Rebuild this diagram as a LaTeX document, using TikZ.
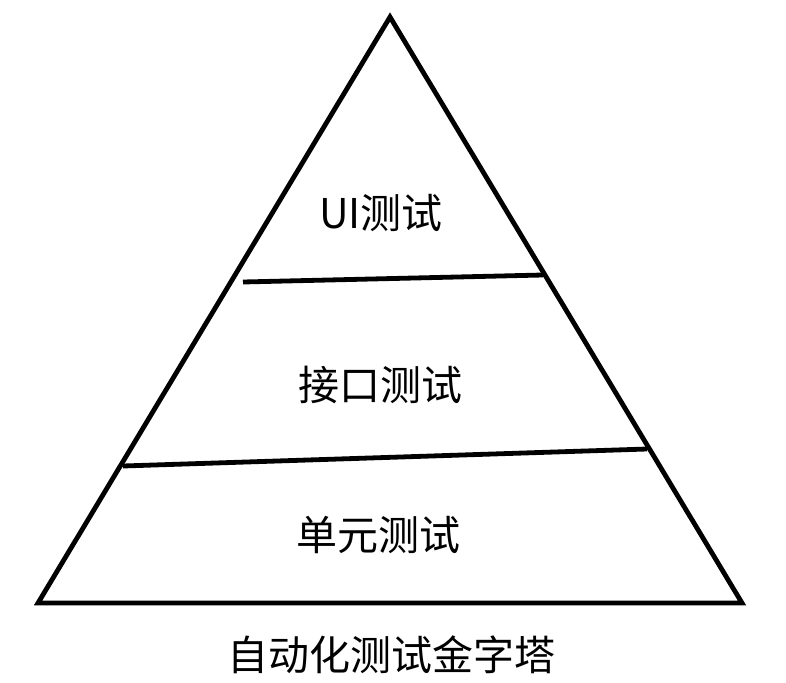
\documentclass[tikz,border=0pt]{standalone}
\usepackage{fontspec}
\newfontfamily\cjk{Noto Sans CJK SC}
\begin{document}
\begin{tikzpicture}[x=1pt, y=-1pt, line width=4.8pt, line join=miter,
    level/.style={font=\cjk\fontsize{41}{48}\selectfont, inner sep=0pt}]
        \useasboundingbox (0,0) rectangle (786,682);
        \coordinate (top) at (390,17);
        \coordinate (bl) at (38,603);
        \coordinate (br) at (742,603);
        \coordinate (u1) at (243,282);
        \coordinate (u2) at (543,275);
        \coordinate (m1) at (123,466);
        \coordinate (m2) at (647,449);

        \draw (top) -- (br) -- (bl) -- cycle;
        \draw (u1) -- (u2);
        \draw (m1) -- (m2);

        \node[level] (ui) at (381,213) {UI测试};
        \node[level] (api) at (380,385) {接口测试};
        \node[level] (unit) at (378,535) {单元测试};
        \node[level] (cap) at (391,655) {自动化测试金字塔};
      \end{tikzpicture}
\end{document}
